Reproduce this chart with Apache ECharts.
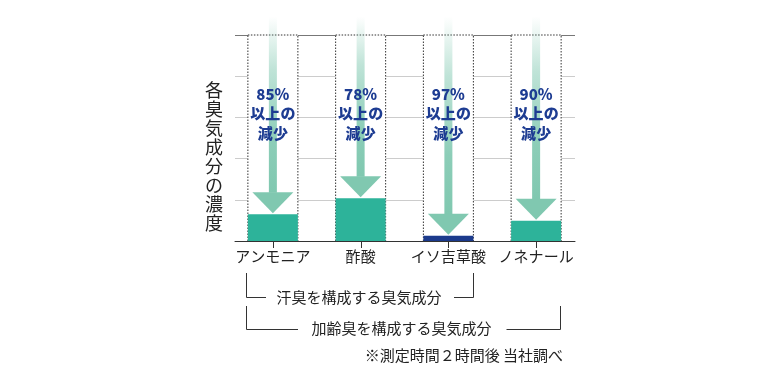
<!DOCTYPE html>
<html><head><meta charset="utf-8">
<script src="https://cdn.jsdelivr.net/npm/echarts@6/dist/echarts.min.js"></script>
<style>html,body{margin:0;padding:0;background:#fff}#c{width:780px;height:380px}</style>
</head><body><div id="c"></div>
<script>
const categories = ['アンモニア', '酢酸', 'イソ吉草酸', 'ノネナール'];
const concentrations = [0.65, 1.04, 0.13, 0.49];
const reductionLabels = ['85%', '78%', '97%', '90%'];
const yTicks = [0, 1, 2, 3, 4, 5];
const yAxisTitle = '各臭気成分の濃度';
const bracket1Text = '汗臭を構成する臭気成分';
const bracket2Text = '加齢臭を構成する臭気成分';
const noteText = '※測定時間２時間後 当社調べ';

const TEAL = '#2db39a', NAVY = '#1b3a8c', ARROW = '#80c8b0', TEXTNAVY = '#1d3c92';
const JP = '"Noto Sans CJK JP", sans-serif';
const ARROW_START = 5.45, LABEL_AT = 3.09;

const chart = echarts.init(document.getElementById('c'));
const yMax = yTicks[yTicks.length - 1];

chart.setOption({
  animation: false,
  backgroundColor: '#fff',
  grid: [
    {left: 235, right: 205, top: 35, bottom: 139},
    {left: 229, right: 200, top: 35, bottom: 139}
  ],
  xAxis: [
    {type: 'category', gridIndex: 0, data: categories, axisLabel: {show: false}, axisTick: {show: false},
     axisLine: {show: true, lineStyle: {color: '#333', width: 1}}},
    {type: 'category', gridIndex: 1, data: categories,
     axisLine: {show: false}, axisTick: {show: false},
     axisLabel: {interval: 0, color: '#222', fontSize: 15, fontFamily: JP, margin: 8}}
  ],
  yAxis: [
    {type: 'value', gridIndex: 0, min: 0, max: yMax, interval: 1, axisLabel: {show: false},
     axisLine: {show: false}, axisTick: {show: false},
     splitLine: {lineStyle: {color: ['#ccc', '#ccc', '#ccc', '#ccc', '#ccc', '#777'], width: 1}}},
    {type: 'value', gridIndex: 1, min: 0, max: yMax, interval: 1, show: false}
  ],
  series: [
    {type: 'bar', xAxisIndex: 1, yAxisIndex: 1, barWidth: 50,
     showBackground: true,
     backgroundStyle: {color: '#fff', borderColor: '#333', borderWidth: 1, borderType: [1.5, 1.5]},
     data: concentrations.map((v, i) => ({value: v, itemStyle: {color: i === 2 ? NAVY : TEAL}}))},
    {type: 'custom', xAxisIndex: 1, yAxisIndex: 1, clip: false, z: 5,
     data: concentrations.map((v, i) => [i, v]),
     renderItem: function (params, api) {
       const i = api.value(0);
       const tip = api.coord([i, api.value(1)]);
       const x = tip[0];
       const base = api.coord([i, 0]);
       const tipY = tip[1] - 1;
       const topY = api.coord([i, ARROW_START])[1];
       const headH = 21, headW = 20.5, shaftW = 4;
       const headTop = tipY - headH;
       const lbl = api.coord([i, LABEL_AT]);
       return {
         type: 'group',
         children: [
           {type: 'rect', shape: {x: Math.round(x), y: Math.round(base[1]), width: 1, height: 7},
            style: {fill: '#333'}},
           {type: 'rect', shape: {x: x - shaftW, y: topY, width: shaftW * 2, height: headTop - topY + 0.5},
            style: {fill: new echarts.graphic.LinearGradient(0, 0, 0, 1, [
              {offset: 0, color: 'rgba(128,200,176,0)'},
              {offset: 0.3, color: 'rgba(128,200,176,0.5)'},
              {offset: 0.7, color: 'rgba(128,200,176,0.9)'},
              {offset: 1, color: 'rgba(128,200,176,1)'}])}},
           {type: 'polygon', shape: {points: [[x - headW, headTop], [x + headW, headTop], [x, tipY]]},
            style: {fill: ARROW}},
           {type: 'text', x: lbl[0], y: lbl[1],
            style: {text: reductionLabels[params.dataIndex] + '\n以上の\n減少', fill: TEXTNAVY,
                    font: '900 15px ' + JP, lineHeight: 19.5, align: 'center', verticalAlign: 'middle'}}
         ]
       };
     }}
  ],
  graphic: [
    {type: 'text', x: 214, y: 156.5,
     style: {text: yAxisTitle.split('').join('\n'), fill: '#222', font: '18px ' + JP, lineHeight: 19,
             align: 'center', verticalAlign: 'middle'}},
    {type: 'polyline', shape: {points: [[246.5, 273], [246.5, 297.5], [266, 297.5]]}, style: {stroke: '#333', lineWidth: 1, fill: null}},
    {type: 'text', x: 359, y: 297.5, style: {text: bracket1Text, fill: '#222', font: '15px ' + JP, align: 'center', verticalAlign: 'middle'}},
    {type: 'polyline', shape: {points: [[454, 297.5], [473.5, 297.5], [473.5, 273]]}, style: {stroke: '#333', lineWidth: 1, fill: null}},
    {type: 'polyline', shape: {points: [[246.5, 306], [246.5, 329.5], [298, 329.5]]}, style: {stroke: '#333', lineWidth: 1, fill: null}},
    {type: 'text', x: 401.5, y: 328, style: {text: bracket2Text, fill: '#222', font: '15px ' + JP, align: 'center', verticalAlign: 'middle'}},
    {type: 'polyline', shape: {points: [[506.5, 329.5], [560.5, 329.5], [560.5, 306]]}, style: {stroke: '#333', lineWidth: 1, fill: null}},
    {type: 'text', x: 563, y: 355, style: {text: noteText, fill: '#222', font: '15px ' + JP, align: 'right', verticalAlign: 'middle'}}
  ]
});
</script>
</body></html>
